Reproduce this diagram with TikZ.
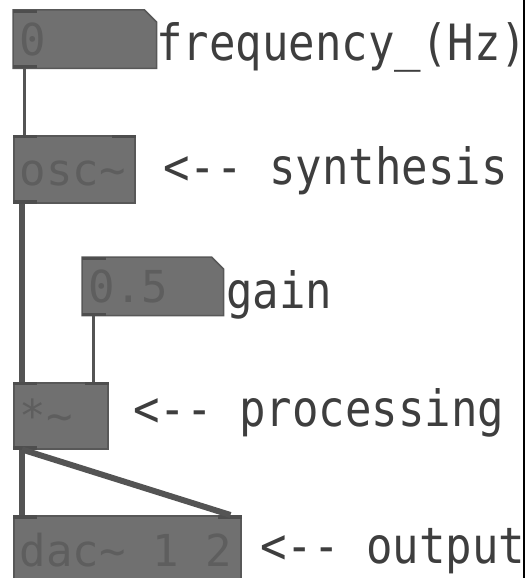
\documentclass[tikz,border=0pt]{standalone}
\usepackage{fontspec}
\usepackage{tikz}
\usetikzlibrary{backgrounds, positioning}
\usepackage{xcolor}

\newfontfamily\pdlabelfont[FakeStretch=0.88]{DejaVu Sans Mono}
\newfontfamily\pdboxfont{DejaVu Sans Mono}
\newcommand\pdarrow{<\kern0pt-\kern0pt-}
\newcommand\pdtext[2]{\makebox[#1][l]{#2}}

\definecolor{pdfill}{RGB}{112,112,112}
\definecolor{pdedge}{RGB}{88,88,88}
\definecolor{pdport}{RGB}{78,78,78}
\definecolor{pdwire}{RGB}{84,84,84}
\definecolor{pdboxtext}{RGB}{94,94,94}
\definecolor{pdlabel}{RGB}{62,62,62}

\begin{document}
\begin{tikzpicture}[x=1pt,y=-1pt]
\tikzstyle{pdbox} = [
	shape=rectangle,
	draw=pdedge, %border of the box
	fill=pdfill, %grey inside
	line width=1.5pt,
	inner xsep=6pt, inner ysep=0pt,
	text=pdboxtext,
	font=\pdboxfont\fontsize{44}{44}\selectfont,
	text height=38pt, text depth=6pt,
	anchor=north west
];
\tikzstyle{pdnumber} = [
	pdbox,
	draw=none, %outline with cut corner drawn below
	fill=none
];
\tikzstyle{pdcomment} = [
	anchor=base west,
	inner sep=0pt,
	text=pdlabel,
	font=\pdlabelfont\fontsize{50}{50}\selectfont
];

\useasboundingbox (0,0) rectangle (527,578);
\clip (0,0) rectangle (527,578);

%boxes
\node[pdnumber, minimum height=57pt](freq) at (13,10) {\pdtext{130pt}{0}};
\node[pdbox, minimum height=67pt](osc) at (13,135) {\pdtext{109pt}{osc\textasciitilde}};
\node[pdnumber, minimum height=57pt](gain) at (82,257) {\pdtext{128pt}{0.5}};
\node[pdbox, minimum height=66pt](mul) at (13,382) {\pdtext{82pt}{*\textasciitilde}};
\node[pdbox, minimum height=70pt](dac) at (13,515) {\pdtext{215pt}{dac\textasciitilde{} 1 2}};

%number boxes with cut corner
\begin{scope}[on background layer]
\foreach \num in {freq, gain}
	\filldraw[draw=pdedge, fill=pdfill, line width=1.5pt]
		(\num.north west) -- ([xshift=-12pt]\num.north east)
		-- ([yshift=-12pt]\num.north east) -- (\num.south east)
		-- (\num.south west) -- cycle;
\end{scope}

%inlets and outlets
\fill[pdport] (freq.north west) rectangle ++(24,3);
\fill[pdport] (freq.south west) rectangle ++(24,-3);
\fill[pdport] (osc.north west) rectangle ++(24,3);
\fill[pdport] (osc.north east) rectangle ++(-24,3);
\fill[pdport] (osc.south west) rectangle ++(24,-4);
\fill[pdport] (gain.north west) rectangle ++(24,3);
\fill[pdport] (gain.south west) rectangle ++(24,-3);
\fill[pdport] (mul.north west) rectangle ++(24,3);
\fill[pdport] (mul.north east) rectangle ++(-24,3);
\fill[pdport] (mul.south west) rectangle ++(24,-4);
\fill[pdport] (dac.north west) rectangle ++(24,4);
\fill[pdport] (dac.north east) rectangle ++(-24,4);

%control wires
\draw[line width=3pt, color=pdwire]
	([xshift=11pt]freq.south west) edge[] ([xshift=11pt]osc.north west)
	([xshift=11pt]gain.south west) edge[] ([xshift=11pt]gain.south west |- mul.north)
;

%signal wires
\draw[line width=6pt, color=pdwire]
	([xshift=9pt]osc.south west) edge[] ([xshift=9pt]mul.north west)
	([xshift=9pt]mul.south west) edge[] ([xshift=9pt]dac.north west)
	([xshift=9pt]mul.south west) edge[] ([xshift=-11pt]dac.north east)
;

%comments
\node[pdcomment](freqlabel) at (156,61) {frequency\_(Hz)};
\node[pdcomment](synthlabel) at (163,184) {\pdarrow{} synthesis};
\node[pdcomment](gainlabel) at (226,308) {gain};
\node[pdcomment](proclabel) at (133,426) {\pdarrow{} processing};
\node[pdcomment](outlabel) at (260,563) {\pdarrow{} output};

%window edge
\draw[line width=2.5pt, color=black] (524,0) -- (524,578);
\end{tikzpicture}
\end{document}
